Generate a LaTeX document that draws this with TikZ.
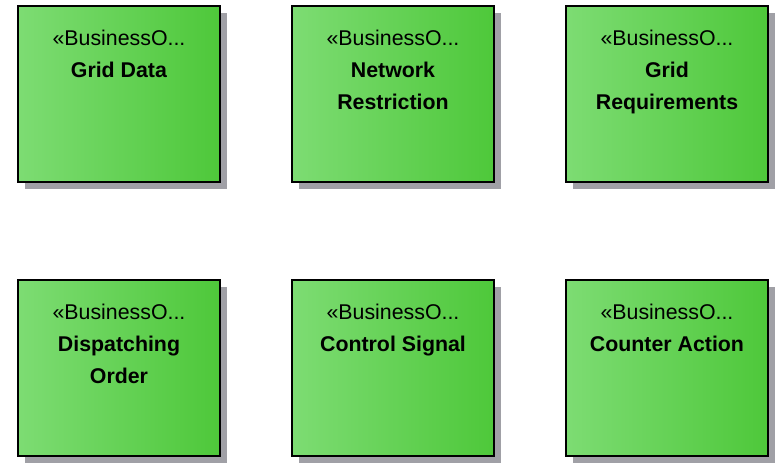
\documentclass[tikz,border=0pt]{standalone}
\usepackage{fontspec}
\setmainfont{Liberation Sans}
\usetikzlibrary{shadows}

\definecolor{boLight}{RGB}{125,220,115}
\definecolor{boDark}{RGB}{78,200,58}
\definecolor{shadowGray}{RGB}{160,160,166}
\newcommand{\stereo}{«BusinessO...}

\begin{document}
\begin{tikzpicture}[node distance={205.5pt},
  main/.style = {draw, line width=1.5pt, left color=boLight, right color=boDark,
    minimum width=151.5pt, minimum height=132pt,
    drop shadow={shadow xshift=5.25pt, shadow yshift=-5.25pt, fill=shadowGray, opacity=1}},
  title/.style = {anchor=north, yshift=-19pt, inner sep=0pt, align=center,
    font=\fontsize{16}{24}\selectfont}]
\useasboundingbox (-89.25pt,70.125pt) rectangle (497.25pt,-276.375pt);

\node[main, label={[title]north:{\stereo\\\textbf{Grid Data}}}] (grid) {};
\node[main, label={[title]north:{\stereo\\\textbf{Network}\\\textbf{Restriction}}}] (netw) [right of=grid] {};
\node[main, label={[title]north:{\stereo\\\textbf{Grid}\\\textbf{Requirements}}}] (req) [right of=netw] {};
\node[main, label={[title]north:{\stereo\\\textbf{Dispatching}\\\textbf{Order}}}] (disp) [below of=grid] {};
\node[main, label={[title]north:{\stereo\\\textbf{Control Signal}}}] (ctrl) [below of=netw] {};
\node[main, label={[title]north:{\stereo\\\textbf{Counter Action}}}] (counter) [below of=req] {};

\end{tikzpicture}
\end{document}
